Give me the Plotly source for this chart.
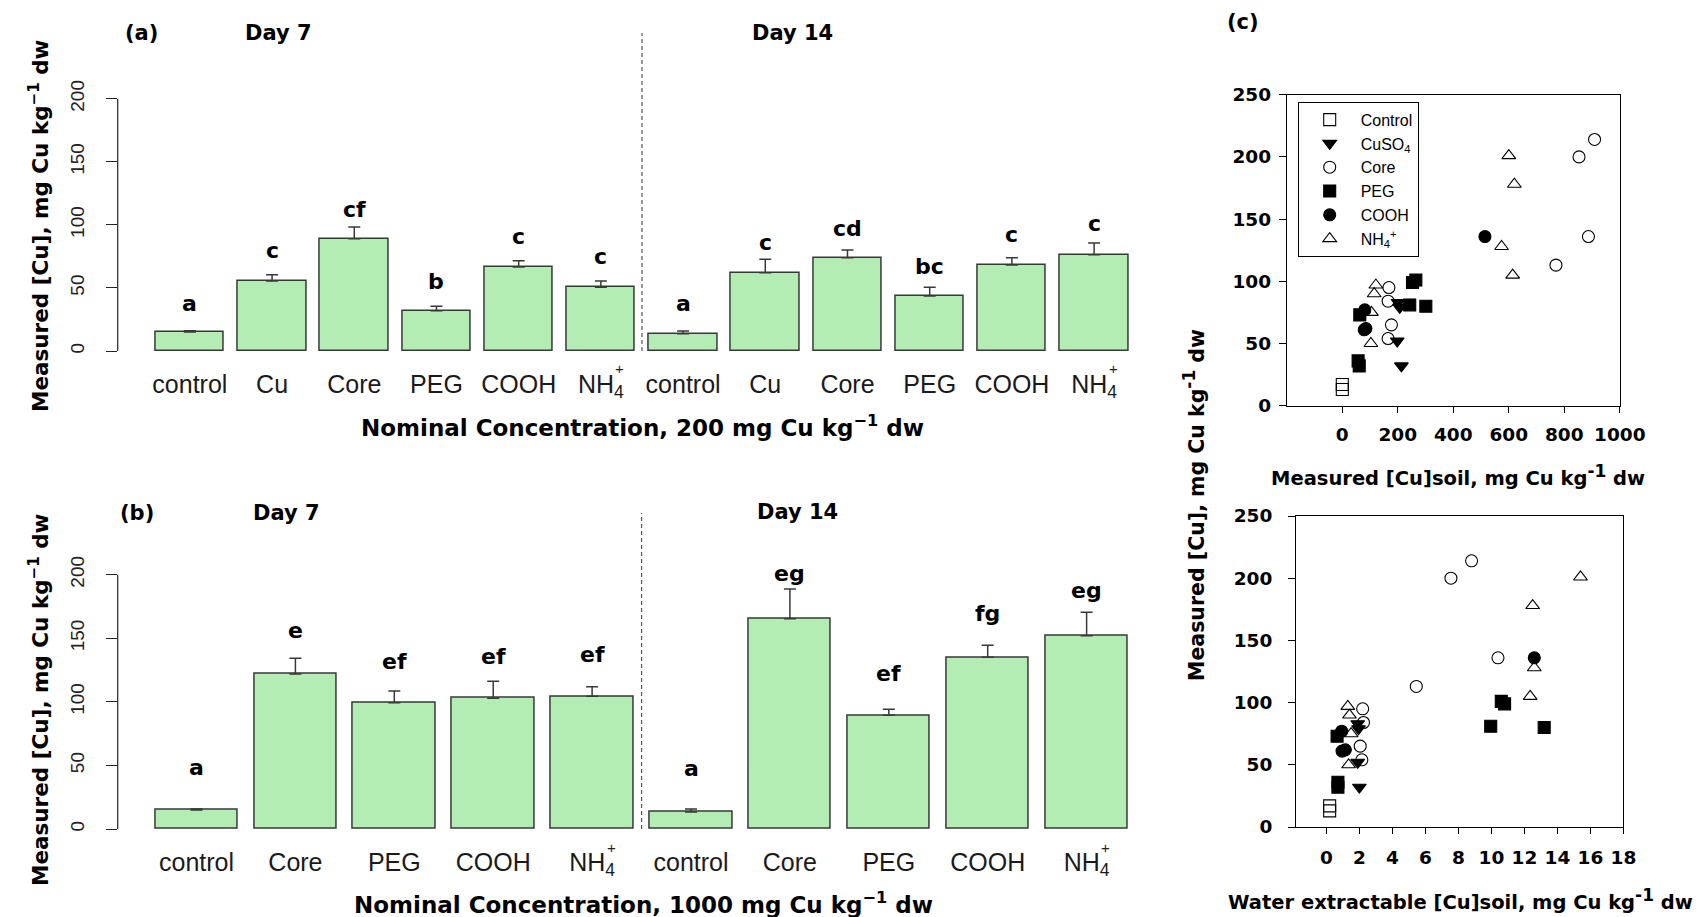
import plotly.graph_objects as go

# ---------------- data ----------------
# (a) nominal 200 mg Cu kg-1 dw : plant [Cu], mean and SE
cats_a = ["control", "Cu", "Core", "PEG", "COOH", "NH<sub>4</sub>"]
a_day7_mean = [15.0, 55.5, 89.0, 32.0, 66.6, 50.5]
a_day7_se = [1.0, 5.0, 9.3, 3.4, 5.0, 5.0]
a_day14_mean = [13.7, 62.0, 74.0, 43.6, 68.2, 76.4]
a_day14_se = [2.2, 10.7, 6.0, 6.9, 5.8, 9.2]
a_day7_letters = ["a", "c", "cf", "b", "c", "c"]
a_day14_letters = ["a", "c", "cd", "bc", "c", "c"]
a_letter_height = [38, 80, 112, 55, 90.6, 74.8, 37.8, 86, 97, 67, 92.5, 101]

# (b) nominal 1000 mg Cu kg-1 dw
cats_b = ["control", "Core", "PEG", "COOH", "NH<sub>4</sub>"]
b_day7_mean = [15.0, 121.9, 99.3, 102.8, 104.3]
b_day7_se = [0.7, 12.3, 9.2, 13.3, 7.6]
b_day14_mean = [13.4, 165.4, 89.4, 135.0, 152.0]
b_day14_se = [2.3, 23.3, 4.7, 9.4, 18.4]
b_day7_letters = ["a", "e", "ef", "ef", "ef"]
b_day14_letters = ["a", "eg", "ef", "fg", "eg"]
b_letter_height = [48.5, 156, 131.6, 136, 137.6, 47.7, 201, 122.4, 169.6, 187.4]

bar_ticks = [0, 50, 100, 150, 200]

# (c) plant [Cu] against soil [Cu] and water-extractable soil [Cu]
treatments = ["Control", "CuSO<sub>4</sub>", "Core", "PEG", "COOH", "NH<sub>4</sub><sup>+</sup>"]
plant_cu = [
    [17, 13],
    [83, 79, 52, 32],
    [95, 84, 65, 54, 113, 200, 214, 136],
    [101, 99, 81, 80, 73, 36, 32],
    [77, 61, 62, 136],
    [97, 90, 75, 50, 201, 178, 128, 105],
]
soil_cu = [
    [0, 0],
    [201, 207, 198, 213],
    [168, 165, 177, 165, 770, 853, 909, 887],
    [265, 253, 243, 301, 63, 57, 61],
    [81, 79, 85, 514],
    [121, 115, 105, 103, 600, 620, 574, 614],
]
water_cu = [
    [0.2, 0.2],
    [1.9, 1.95, 1.9, 2.0],
    [2.2, 2.25, 2.05, 2.15, 5.45, 7.55, 8.8, 10.4],
    [10.6, 10.8, 9.96, 13.2, 0.65, 0.7, 0.7],
    [0.93, 0.95, 1.15, 12.6],
    [1.3, 1.4, 1.5, 1.35, 15.4, 12.5, 12.6, 12.35],
]
soil_ticks = [0, 200, 400, 600, 800, 1000]
water_ticks = [0, 2, 4, 6, 8, 10, 12, 14, 16, 18]
scatter_y_ticks = [0, 50, 100, 150, 200, 250]

# ---------------- styling ----------------
W, H = 1700, 917
BAR_FILL = "#b3edb3"
EDGE = "#383838"
BOLD = "DejaVu Sans"
REG = "Liberation Sans"
symbols = ["square-open", "triangle-down", "circle-open", "square", "circle", "triangle-up-open"]


def px(x):
    return x / W


def py(y):
    return 1 - y / H


fig = go.Figure()

# ---------------- bar panels ----------------
def add_bars(means, ses, xa, ya):
    n = len(means)
    fig.add_trace(go.Bar(
        x=list(range(n)), y=means, width=1 / 1.2,
        marker=dict(color=BAR_FILL, line=dict(color=EDGE, width=1.5)),
        error_y=dict(type="data", array=ses, arrayminus=[0] * n, symmetric=False,
                     color=EDGE, thickness=1.5, width=6),
        xaxis=xa, yaxis=ya, showlegend=False, hoverinfo="skip"))


add_bars(a_day7_mean + a_day14_mean, a_day7_se + a_day14_se, "x", "y")
add_bars(b_day7_mean + b_day14_mean, b_day7_se + b_day14_se, "x2", "y2")

annotations = []
shapes = []


def letters(labels, heights, xref, yref):
    for i, (t, h) in enumerate(zip(labels, heights)):
        annotations.append(dict(x=i, y=h, xref=xref, yref=yref, text=t, showarrow=False,
                                font=dict(family=BOLD, size=22, color="black", weight="bold"),
                                xanchor="center", yanchor="middle"))


letters(a_day7_letters + a_day14_letters, a_letter_height, "x", "y")
letters(b_day7_letters + b_day14_letters, b_letter_height, "x2", "y2")

# superscript "+" stacked over the NH4 subscript
for xref, yref_px, idx in [("x", 369, [5, 11]), ("x2", 847, [4, 9])]:
    for i in idx:
        annotations.append(dict(x=i, y=py(yref_px), xref=xref, yref="paper", text="+",
                                showarrow=False, xshift=19,
                                font=dict(family=REG, size=15, color="#222"),
                                xanchor="center", yanchor="middle"))

# y axis lines spanning the tick range only, and the day separators
for xr, yr, sep, top_px, bot_px in [("x", "y", 5.5, 33, 351), ("x2", "y2", 4.5, 513, 829)]:
    shapes.append(dict(type="line", xref=xr + " domain", yref=yr, x0=0, x1=0,
                       y0=bar_ticks[0], y1=bar_ticks[-1], line=dict(color="#222", width=1.2)))
    shapes.append(dict(type="line", xref=xr, yref="paper", x0=sep, x1=sep,
                       y0=py(bot_px), y1=py(top_px),
                       line=dict(color="#555", width=1.2, dash="4px,3px")))

# panel labels and titles
def text(x, y, t, size, family=BOLD, angle=0, bold=True):
    annotations.append(dict(x=px(x), y=py(y), xref="paper", yref="paper", text=t,
                            showarrow=False, textangle=angle,
                            font=dict(family=family, size=size, color="black",
                                      weight="bold" if bold else "normal"),
                            xanchor="center", yanchor="middle"))


text(141, 33, "(a)", 21)
text(278, 33, "Day 7", 21)
text(792, 33, "Day 14", 21)
text(137, 513, "(b)", 21)
text(286, 513, "Day 7", 21)
text(797, 512, "Day 14", 21)
text(1243, 22, "(c)", 21)

ytitle = "Measured [Cu], mg Cu kg<sup>\u22121</sup> dw"
text(39, 226, ytitle, 21.5, angle=-90)
text(39, 700, ytitle, 21.5, angle=-90)
text(642, 426, "Nominal Concentration, 200 mg Cu kg<sup>\u22121</sup> dw", 23)
text(643, 903, "Nominal Concentration, 1000 mg Cu kg<sup>\u22121</sup> dw", 23)

sup1 = "<sup><span style='font-size:17px'>-1</span></sup>"
text(1194, 505, "Measured [Cu], mg Cu kg" + sup1 + " dw", 20.5, angle=-90)
text(1458, 475, "Measured [Cu]soil, mg Cu kg" + sup1 + " dw", 19.5)
text(1460, 899, "Water extractable [Cu]soil, mg Cu kg" + sup1 + " dw", 19.5)

# ---------------- scatter panels ----------------
for name, sym, yv, sv, wv in zip(treatments, symbols, plant_cu, soil_cu, water_cu):
    mk = dict(symbol=sym, size=12, color="black", line=dict(color="black", width=1.1))
    fig.add_trace(go.Scatter(x=sv, y=yv, mode="markers", name=name, marker=mk,
                             legendgroup=name, xaxis="x3", yaxis="y3", cliponaxis=False))
    fig.add_trace(go.Scatter(x=wv, y=yv, mode="markers", name=name, marker=mk,
                             legendgroup=name, showlegend=False, xaxis="x4", yaxis="y4",
                             cliponaxis=False))

cat_font = dict(family=REG, size=25, color="#1a1a1a")
bar_tick_font = dict(family=REG, size=19, color="#222")
sc_tick_font = dict(family=BOLD, size=18.5, color="black", weight="bold")

common = dict(showgrid=False, zeroline=False, automargin=False)

fig.update_layout(
    width=W, height=H, margin=dict(l=0, r=0, t=0, b=0, autoexpand=False),
    paper_bgcolor="white", plot_bgcolor="rgba(0,0,0,0)",
    bargap=0,
    xaxis=dict(domain=[px(117.7), px(1150)], range=[-0.878, 11.68], anchor="y",
               tickvals=list(range(12)), ticktext=cats_a + cats_a, tickfont=cat_font,
               showline=False, ticks="", ticklabelstandoff=16, **common),
    yaxis=dict(domain=[py(351), py(60.9)], range=[0, 230], anchor="x",
               tickvals=bar_ticks, tickangle=-90, tickfont=bar_tick_font,
               ticks="outside", ticklen=11, tickcolor="#222", tickwidth=1.2,
               showline=False, ticklabelstandoff=14, **common),
    xaxis2=dict(domain=[px(117.7), px(1150)], range=[-0.797, 9.641], anchor="y2",
                tickvals=list(range(10)), ticktext=cats_b + cats_b, tickfont=cat_font,
                showline=False, ticks="", ticklabelstandoff=16, **common),
    yaxis2=dict(domain=[py(829), py(523.8)], range=[0, 240], anchor="x2",
                tickvals=bar_ticks, tickangle=-90, tickfont=bar_tick_font,
                ticks="outside", ticklen=11, tickcolor="#222", tickwidth=1.2,
                showline=False, ticklabelstandoff=14, **common),
    xaxis3=dict(domain=[px(1286.8), px(1619.8)], range=[-200, 1000], anchor="y3",
                tickvals=soil_ticks, tickfont=sc_tick_font, ticks="outside", ticklen=6,
                tickcolor="black", showline=True, mirror=True, linecolor="black",
                linewidth=1, ticklabelstandoff=6, **common),
    yaxis3=dict(domain=[py(405.7), py(94.7)], range=[0, 250], anchor="x3",
                tickvals=scatter_y_ticks, tickfont=sc_tick_font, ticks="outside", ticklen=7,
                tickcolor="black", showline=True, mirror=True, linecolor="black",
                linewidth=1, ticklabelstandoff=4, **common),
    xaxis4=dict(domain=[px(1296), px(1623.4)], range=[-1.84, 18], anchor="y4",
                tickvals=water_ticks, tickfont=sc_tick_font, ticks="outside", ticklen=6,
                tickcolor="black", showline=True, mirror=True, linecolor="black",
                linewidth=1, ticklabelstandoff=8, **common),
    yaxis4=dict(domain=[py(827), py(516)], range=[0, 250], anchor="x4",
                tickvals=scatter_y_ticks, tickfont=sc_tick_font, ticks="outside", ticklen=7,
                tickcolor="black", showline=True, mirror=True, linecolor="black",
                linewidth=1, ticklabelstandoff=12, **common),
    legend=dict(x=px(1297.7), y=py(101.7), xanchor="left", yanchor="top",
                bordercolor="black", borderwidth=1, bgcolor="white",
                font=dict(family=REG, size=16, color="black"),
                itemwidth=52, entrywidth=96, tracegroupgap=0),
    annotations=annotations,
    shapes=shapes,
)

fig.write_html("out.html")
